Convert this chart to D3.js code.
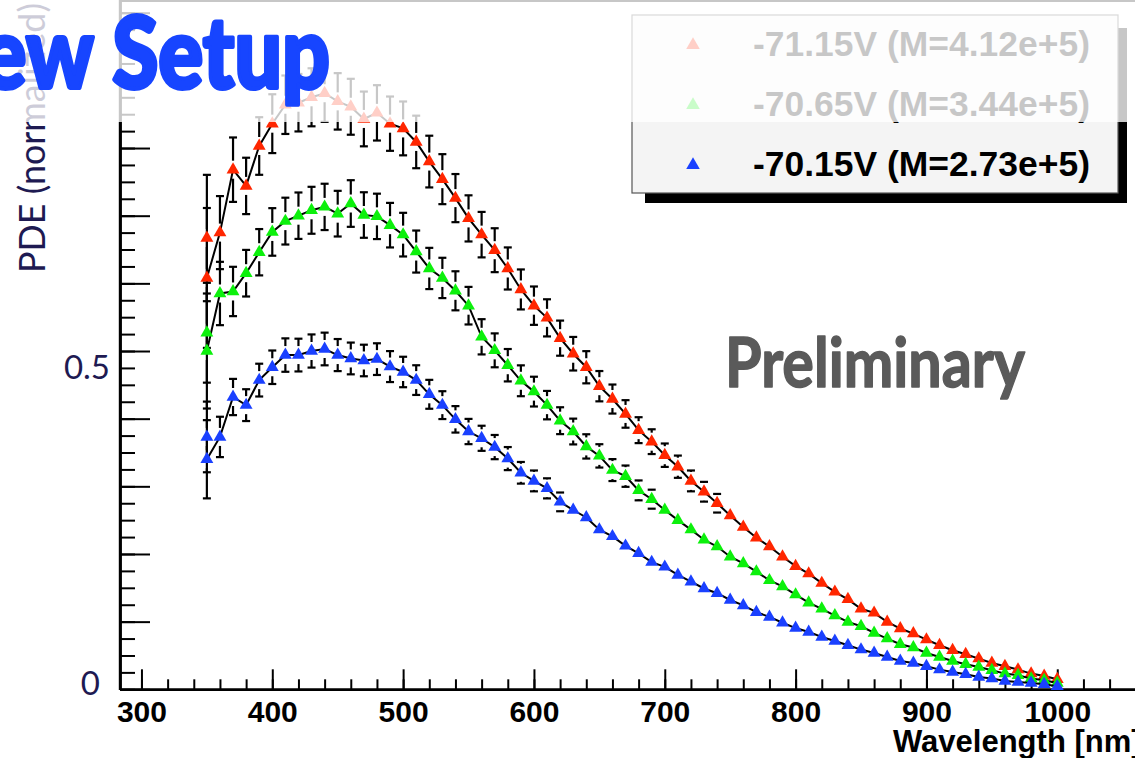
<!DOCTYPE html>
<html>
<head>
<meta charset="utf-8">
<script src="https://cdn.jsdelivr.net/npm/d3@7"></script>
<style>
  html, body { margin: 0; padding: 0; background: #fff; }
  svg { display: block; }
</style>
</head>
<body>
<svg id="chart" width="1135" height="758"></svg>
<script>
// Wavelength of each measurement [nm]; 350 nm was measured twice.
const wavelengths = [350, 350, 360, 370, 380, 390, 400, 410, 420, 430, 440, 450, 460, 470, 480, 490,
  500, 510, 520, 530, 540, 550, 560, 570, 580, 590, 600, 610, 620, 630, 640, 650, 660, 670, 680, 690,
  700, 710, 720, 730, 740, 750, 760, 770, 780, 790, 800, 810, 820, 830, 840, 850, 860, 870, 880, 890,
  900, 910, 920, 930, 940, 950, 960, 970, 980, 990, 1000];

// Normalised PDE at each bias voltage
const pde7115 = [0.667, 0.608, 0.675, 0.768, 0.744, 0.803, 0.836, 0.864, 0.867, 0.875, 0.881, 0.869,
  0.861, 0.843, 0.852, 0.836, 0.829, 0.809, 0.780, 0.754, 0.726, 0.696, 0.672, 0.649, 0.622, 0.591,
  0.567, 0.549, 0.519, 0.496, 0.476, 0.448, 0.429, 0.407, 0.383, 0.366, 0.346, 0.329, 0.308, 0.292,
  0.275, 0.257, 0.240, 0.224, 0.211, 0.196, 0.182, 0.171, 0.157, 0.144, 0.133, 0.119, 0.113, 0.0996,
  0.0898, 0.0824, 0.0735, 0.0651, 0.0577, 0.0518, 0.0454, 0.0389, 0.034, 0.0291, 0.0232, 0.0197, 0.0148];

const pde7065 = [0.527, 0.500, 0.585, 0.588, 0.615, 0.646, 0.676, 0.692, 0.700, 0.708, 0.713, 0.703,
  0.718, 0.701, 0.699, 0.686, 0.672, 0.647, 0.622, 0.608, 0.589, 0.567, 0.521, 0.501, 0.479, 0.456,
  0.440, 0.420, 0.397, 0.381, 0.359, 0.345, 0.324, 0.315, 0.294, 0.281, 0.265, 0.250, 0.236, 0.221,
  0.211, 0.196, 0.186, 0.174, 0.161, 0.152, 0.140, 0.128, 0.119, 0.109, 0.0996, 0.0932, 0.0833, 0.075,
  0.0666, 0.0617, 0.0537, 0.0478, 0.0419, 0.037, 0.033, 0.0281, 0.0232, 0.0207, 0.0158, 0.0133, 0.0093];

const pde7015 = [0.373, 0.340, 0.373, 0.432, 0.420, 0.457, 0.476, 0.494, 0.494, 0.500, 0.503, 0.494,
  0.489, 0.486, 0.488, 0.477, 0.469, 0.457, 0.436, 0.420, 0.399, 0.381, 0.371, 0.358, 0.341, 0.320,
  0.308, 0.297, 0.277, 0.265, 0.254, 0.236, 0.226, 0.212, 0.201, 0.188, 0.181, 0.169, 0.159, 0.149,
  0.142, 0.132, 0.124, 0.114, 0.107, 0.0984, 0.0905, 0.0848, 0.0774, 0.0714, 0.0651, 0.0587, 0.0537,
  0.0478, 0.0419, 0.0389, 0.034, 0.0291, 0.0256, 0.0222, 0.0182, 0.0158, 0.0123, 0.0108, 0.0093,
  0.0074, 0.0044];

// Relative uncertainty of each wavelength point (shared by all bias settings)
const relError = [0.14, 0.17, 0.08, 0.062, 0.056, 0.053, 0.052, 0.050, 0.049, 0.049, 0.048, 0.048,
  0.048, 0.048, 0.048, 0.048, 0.048, 0.048, 0.049, 0.049, 0.049, 0.049, 0.050, 0.050, 0.050, 0.050,
  0.050, 0.050, 0.050, 0.050, 0.050, 0.050, 0.050, 0.050, 0.050, 0.050, 0.050, 0.050, 0.050, 0.050,
  0.050, 0.050, 0.050, 0.050, 0.050, 0.050, 0.050, 0.050, 0.050, 0.050, 0.050, 0.050, 0.050, 0.050,
  0.050, 0.050, 0.050, 0.050, 0.050, 0.050, 0.050, 0.050, 0.050, 0.050, 0.050, 0.050, 0.050];

const seriesLabels = ["-71.15V (M=4.12e+5)", "-70.65V (M=3.44e+5)", "-70.15V (M=2.73e+5)"];
const seriesColors = ["#ff2600", "#0cf00c", "#1a40ff"];
const seriesValues = [pde7115, pde7065, pde7015];

const xMajorTicks = [300, 400, 500, 600, 700, 800, 900, 1000];
const xMinorTicks = [300, 320, 340, 360, 380, 400, 420, 440, 460, 480, 500, 520, 540, 560, 580, 600,
  620, 640, 660, 680, 700, 720, 740, 760, 780, 800, 820, 840, 860, 880, 900, 920, 940, 960, 980, 1000,
  1020, 1040, 1060];
const yMajorTicks = [0, 0.1, 0.2, 0.3, 0.4, 0.5, 0.6, 0.7, 0.8, 0.9, 1.0];
const yMinorTicks = [0, 0.025, 0.05, 0.075, 0.1, 0.125, 0.15, 0.175, 0.2, 0.225, 0.25, 0.275, 0.3,
  0.325, 0.35, 0.375, 0.4, 0.425, 0.45, 0.475, 0.5, 0.525, 0.55, 0.575, 0.6, 0.625, 0.65, 0.675, 0.7,
  0.725, 0.75, 0.775, 0.8, 0.825, 0.85, 0.875, 0.9, 0.925, 0.95, 0.975, 1.0];
const yLabelTicks = [0, 0.5];

const svg = d3.select("#chart");
const W = 1135, H = 758;

// Scales: frame starts at x=120, the x axis runs past the right edge
const xDomain = [283.6, 1080];
const x = d3.scaleLinear().domain(xDomain).range([120, 120 + (xDomain[1] - xDomain[0]) * 1.3083]);
const y = d3.scaleLinear().domain([0, 1.0188]).range([689.3, 0]);

const plot = svg.append("g");

// Frame top edge
plot.append("line")
  .attr("x1", 120).attr("x2", W + 10).attr("y1", 1).attr("y2", 1)
  .attr("stroke", "#000").attr("stroke-width", 2);

// X axis: minor and major ticks point inwards
const xMinorAxis = d3.axisBottom(x).tickValues(xMinorTicks).tickSize(-10).tickSizeOuter(0).tickFormat("");
const xMajorAxis = d3.axisBottom(x).tickValues(xMajorTicks).tickSize(-20).tickSizeOuter(0).tickFormat(d3.format("d"));

const gxMinor = plot.append("g").attr("transform", "translate(0,689.3)").call(xMinorAxis);
const gxMajor = plot.append("g").attr("transform", "translate(0,689.3)").call(xMajorAxis);
[gxMinor, gxMajor].forEach(g => {
  g.selectAll("path.domain").attr("stroke", "#000").attr("stroke-width", 2.4);
  g.selectAll(".tick line").attr("stroke", "#000").attr("stroke-width", 2);
});
gxMajor.selectAll(".tick text")
  .attr("y", 32.5).attr("dy", 0)
  .attr("fill", "#000")
  .style("font-family", "'Liberation Sans', Arial, sans-serif")
  .style("font-weight", "bold")
  .style("font-size", "30px");

// Y axis
const yMinorAxis = d3.axisLeft(y).tickValues(yMinorTicks).tickSize(-15).tickSizeOuter(0).tickFormat("");
const yMajorAxis = d3.axisLeft(y).tickValues(yMajorTicks).tickSize(-30).tickSizeOuter(0).tickFormat("");
const gyMinor = plot.append("g").attr("transform", "translate(120,0)").call(yMinorAxis);
const gyMajor = plot.append("g").attr("transform", "translate(120,0)").call(yMajorAxis);
[gyMinor, gyMajor].forEach(g => {
  g.selectAll("path.domain").attr("stroke", "#000").attr("stroke-width", 2.4);
  g.selectAll(".tick line").attr("stroke", "#000").attr("stroke-width", 2);
});
plot.append("line").attr("x1", 120).attr("x2", 120).attr("y1", 0).attr("y2", 690)
  .attr("stroke", "#000").attr("stroke-width", 2.4);

// Data: error bars, connecting line, triangle markers for each bias setting
const gap = 9, capHalf = 4;
const tri = d3.symbol().type(d3.symbolTriangle).size(72);
seriesValues.forEach((vals, si) => {
  const pts = wavelengths.map((w, i) => ({ w, v: vals[i], e: vals[i] * relError[i] }));
  const g = plot.append("g");
  const eb = g.append("g").attr("stroke", "#000").attr("stroke-width", 2.2);
  pts.forEach(p => {
    const cx = x(p.w), cy = y(p.v), top = y(p.v + p.e), bot = y(p.v - p.e);
    if (cy - top > gap) {
      eb.append("line").attr("x1", cx).attr("x2", cx).attr("y1", cy - gap).attr("y2", top);
      eb.append("line").attr("x1", cx - capHalf).attr("x2", cx + capHalf).attr("y1", top).attr("y2", top);
    }
    if (bot - cy > gap) {
      eb.append("line").attr("x1", cx).attr("x2", cx).attr("y1", cy + gap).attr("y2", bot);
      eb.append("line").attr("x1", cx - capHalf).attr("x2", cx + capHalf).attr("y1", bot).attr("y2", bot);
    }
  });
  g.append("path")
    .datum(pts)
    .attr("fill", "none").attr("stroke", "#000").attr("stroke-width", 2)
    .attr("d", d3.line().x(d => x(d.w)).y(d => y(d.v)));
  g.selectAll("path.mk").data(pts).join("path")
    .attr("class", "mk")
    .attr("d", tri)
    .attr("transform", d => `translate(${x(d.w)},${y(d.v)})`)
    .attr("fill", seriesColors[si]);
});

// Axis titles and labels
svg.append("text")
  .attr("x", 893).attr("y", 752)
  .attr("fill", "#000")
  .style("font-family", "'Liberation Sans', Arial, sans-serif")
  .style("font-weight", "bold").style("font-size", "31px")
  .text("Wavelength [nm]");

const navy = "#1e1a52";
svg.append("text")
  .attr("transform", "translate(45,273) rotate(-90)")
  .attr("fill", navy)
  .attr("textLength", 270).attr("lengthAdjust", "spacingAndGlyphs")
  .style("font-family", "Lato, 'Open Sans', sans-serif")
  .style("font-size", "37px")
  .text("PDE (normalized)");

const yLabelPos = { 0: [100, 695], 0.5: [110, 379] };
svg.selectAll("text.ylab").data(yLabelTicks).join("text")
  .attr("class", "ylab")
  .attr("x", d => yLabelPos[d][0]).attr("y", d => yLabelPos[d][1])
  .attr("text-anchor", "end")
  .attr("fill", navy)
  .style("font-family", "Lato, 'Open Sans', sans-serif")
  .style("font-size", "33px")
  .text(d => d3.format("")(d));

// Legend with drop shadow
const legend = svg.append("g");
legend.append("rect").attr("x", 645).attr("y", 28).attr("width", 482).attr("height", 175).attr("fill", "#000");
legend.append("rect").attr("x", 632).attr("y", 15).attr("width", 486).attr("height", 178)
  .attr("fill", "#f4f4f4").attr("stroke", "#555").attr("stroke-width", 1.2);
const legRows = [45, 105, 165];
seriesLabels.forEach((lab, i) => {
  legend.append("path").attr("d", d3.symbol().type(d3.symbolTriangle).size(80))
    .attr("transform", `translate(693,${legRows[i]})`).attr("fill", seriesColors[i]);
  legend.append("text")
    .attr("x", 753).attr("y", legRows[i] + 11)
    .attr("fill", "#000")
    .attr("textLength", 337).attr("lengthAdjust", "spacingAndGlyphs")
    .style("font-family", "'Liberation Sans', Arial, sans-serif")
    .style("font-weight", "bold").style("font-size", "35px")
    .text(lab);
});

// Watermark
svg.append("text")
  .attr("x", 725).attr("y", 387)
  .attr("fill", "#5a5a5a")
  .attr("textLength", 300).attr("lengthAdjust", "spacingAndGlyphs")
  .style("font-family", "Lato, 'DejaVu Sans', sans-serif")
  .style("font-weight", "bold").style("font-size", "68px")
  .attr("stroke", "#5a5a5a").attr("stroke-width", 1.5).attr("stroke-linejoin", "round")
  .text("Preliminary");

// Translucent white band over the top of the slide
svg.append("rect").attr("x", 0).attr("y", 0).attr("width", W).attr("height", 122)
  .attr("fill", "#fff").attr("fill-opacity", 0.78);

// Slide title, running off the left edge
svg.append("text")
  .attr("x", -82).attr("y", 88)
  .attr("fill", "#1745ff")
  .attr("stroke", "#1745ff").attr("stroke-width", 4).attr("stroke-linejoin", "round")
  .attr("textLength", 412).attr("lengthAdjust", "spacingAndGlyphs")
  .style("font-family", "Lato, 'DejaVu Sans', sans-serif")
  .style("font-weight", "900").style("font-size", "100px")
  .text("New Setup");
</script>
</body>
</html>
